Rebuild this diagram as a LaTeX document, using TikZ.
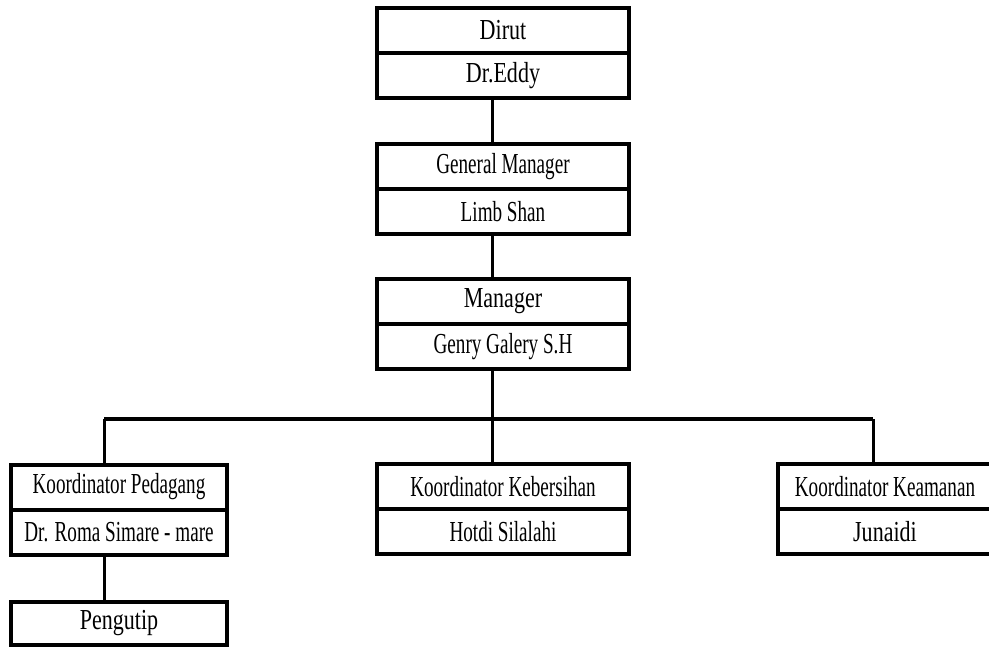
\documentclass[tikz,border=0pt]{standalone}
\usepackage{fontspec}
\setmainfont{Liberation Serif}
\newfontfamily\widefam[FakeStretch=0.76]{Liberation Serif}
\newfontfamily\narrowfam[FakeStretch=0.66]{Liberation Serif}
\usetikzlibrary{positioning}
\newcommand{\orgwidefont}{\widefam\fontsize{29}{31}\selectfont}
\newcommand{\orgnarrowfont}{\narrowfam\fontsize{29}{31}\selectfont}

\begin{document}
\begin{tikzpicture}[
        x=1pt, y=1pt,
        post/.style={draw, line width=4pt, outer sep=0pt, fill=white, minimum width=252pt, minimum height=45pt, inner sep=0pt, align=center, font=\orgnarrowfont},
        postbig/.style={post, font=\orgwidefont},
        side/.style={minimum width=216pt},
        link/.style={line width=3pt},
        bus/.style={line width=4pt}
      ]
      \useasboundingbox (0,0) rectangle (989,-650);

      % top of the chart
      \node[postbig] (dirut) at (503,-30.5) {Dirut};
      \node[postbig, below=0pt of dirut] (eddy) {Dr.Eddy};
      \node[post, below=46pt of eddy] (gm) {General Manager};
      \node[post, below=0pt of gm] (limb) {Limb Shan};
      \node[postbig, below=45pt of limb] (mgr) {Manager};
      \node[post, below=0pt of mgr] (genry) {Genry Galery S.H};

      % coordinators
      \node[post, side] (pedagang) at (119,-487) {Koordinator Pedagang};
      \node[post, side, below=0pt of pedagang] (roma) {Dr. Roma Simare - mare};
      \node[postbig, side, below=47pt of roma, minimum height=43pt] (pengutip) {Pengutip};
      \node[post] (bersih) at (503,-486.5) {Koordinator Kebersihan};
      \node[post, below=0pt of bersih] (hotdi) {Hotdi Silalahi};
      \node[post, minimum width=214pt] (aman) at (885,-486.5) {Koordinator Keamanan};
      \node[postbig, minimum width=214pt, below=0pt of aman] (junaidi) {Junaidi};

      \coordinate (spine) at (492,-419);
      \coordinate (ljoin) at (104,-419);
      \coordinate (rjoin) at (873,-419);

      \draw[link] (spine |- eddy.south) -- (spine |- gm.north);
      \draw[link] (spine |- limb.south) -- (spine |- mgr.north);
      \draw[link] (spine |- genry.south) -- (spine |- bersih.north);
      \draw[bus] (ljoin) -- (rjoin);
      \draw[link] (ljoin) -- (ljoin |- pedagang.north);
      \draw[link] (rjoin) -- (rjoin |- aman.north);
      \draw[link] (ljoin |- roma.south) -- (ljoin |- pengutip.north);
    \end{tikzpicture}
\end{document}
